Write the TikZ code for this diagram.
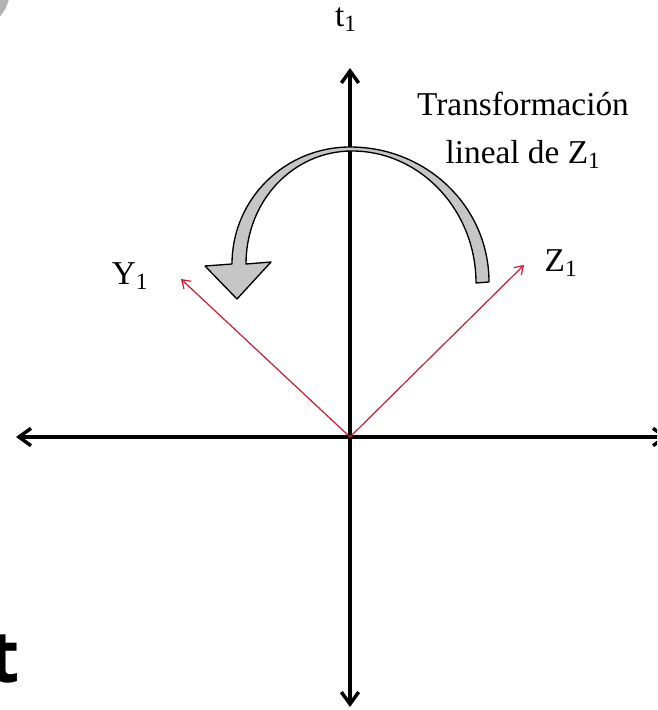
\documentclass[tikz,border=0pt]{standalone}
\usepackage{fontspec}
\setmainfont{Liberation Serif}
\newfontfamily\slidefont{Open Sans}
\usetikzlibrary{arrows.meta}
\definecolor{vecred}{RGB}{200,30,50}
\definecolor{bendgray}{RGB}{198,198,198}
\tikzstyle{axis} = [line width=2.6pt, {Straight Barb[length=9pt,width=13pt]}-{Straight Barb[length=9pt,width=13pt]}]
\tikzstyle{vector} = [vecred, line width=0.9pt, -{Straight Barb[length=6pt,width=8pt]}]
\tikzstyle{axislabel} = [inner sep=1pt, font=\fontsize{25}{30}\selectfont]
\tikzstyle{bendarrow} = [draw=black, line width=1pt, fill=bendgray, line join=round]

\begin{document}
\begin{tikzpicture}[x=0.75pt, y=-0.75pt]
\useasboundingbox (0,0) rectangle (657,710);
\clip (0,0) rectangle (657,710);

% Slide remains at the edges
\fill[gray!60] (-30,-10) circle (40);
\node (tee) [anchor=base east, inner sep=0pt, font=\slidefont\bfseries\fontsize{54}{60}\selectfont] at (20,682) {t};

% Axes
\coordinate (O) at (350,437);
\coordinate (west) at (16,437);
\coordinate (east) at (668,437);
\coordinate (north) at (350,68);
\coordinate (south) at (350,707);
\draw [axis] (west) -- (east);
\draw [axis] (south) -- (north);

% Vectors
\coordinate (ytip) at (181,279);
\coordinate (ztip) at (524,265);
\draw [vector] (O) -- (ytip);
\draw [vector] (O) -- (ztip);

% Labels
\node (tlabel) [axislabel] at (346,20) {t\textsubscript{1}};
\node (ylabel) [axislabel] at (130,276) {Y\textsubscript{1}};
\node (zlabel) [axislabel] at (561,263) {Z\textsubscript{1}};
\node (caption) [axislabel, align=center, font=\fontsize{25}{36}\selectfont] at (523,130)
{Transformación\\lineal de Z\textsubscript{1}};

% Curved block arrow
\draw [bendarrow] (489,282)
  .. controls (489,207) and (427,147) .. (350,147)
  .. controls (285,147) and (232,199) .. (232,264)
  -- (205,266) -- (237,299) -- (271,262) -- (246,264)
  .. controls (246,201) and (293,151) .. (352,151)
  .. controls (420,151) and (476,210) .. (476,283)
  -- cycle;

\end{tikzpicture}
\end{document}
